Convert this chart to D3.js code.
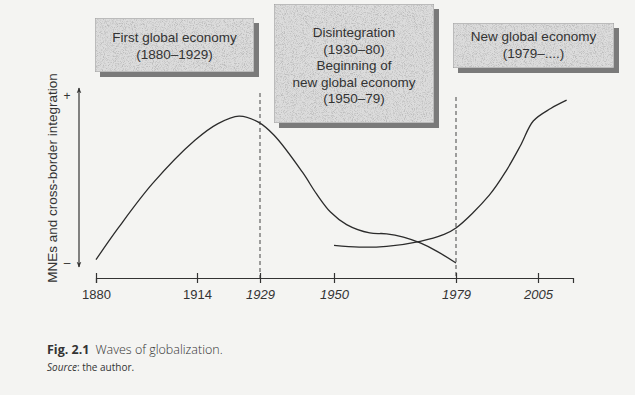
<!DOCTYPE html>
<html>
<head>
<meta charset="utf-8">
<script src="https://d3js.org/d3.v7.min.js"></script>
<style>
  body { margin: 0; background: #f4f4f2; }
  svg { display: block; }
  text { font-family: "Liberation Sans", Arial, sans-serif; fill: #333; }
  .cap { font-family: "Open Sans", "Noto Sans", sans-serif; }
</style>
</head>
<body>
<svg width="635" height="395"></svg>
<script>
// tick years along the time axis
var tickYears = [1880, 1914, 1929, 1950, 1979, 2005];
var italicYears = [1929, 1950, 1979, 2005];
var dashedYears = [1929, 1979];

// first wave: rise to 1920s, fall through disintegration
var waveYears  = [1880, 1887.5, 1899, 1913.3, 1919, 1924, 1928.5, 1933, 1941, 1945, 1949, 1953, 1958.5, 1962.5, 1966.5, 1970.5, 1974.5, 1979];
var waveValues = [0.2, 2.1, 4.75, 7.35, 8.35, 8.8, 8.45, 7.65, 5.45, 4.15, 3.05, 2.3, 1.8, 1.75, 1.55, 1.2, 0.7, 0];

// new global economy: starts 1950, climbs after 1979
var newYears  = [1950, 1956, 1962.5, 1970.5, 1976, 1979, 1989.5, 1995, 1999.5, 2003.5, 2009, 2014];
var newValues = [1.05, 0.95, 1.0, 1.3, 1.7, 2.1, 4.05, 5.55, 7.05, 8.5, 9.25, 9.75];

// period boxes
var boxLines = [
  ["First global economy", "(1880\u20131929)"],
  ["Disintegration", "(1930\u201380)", "Beginning of", "new global economy", "(1950\u201379)"],
  ["New global economy", "(1979\u2013....)"]
];
var boxGeom = [
  {x: 95, y: 18, w: 159, h: 54, ty: 42},
  {x: 274, y: 4, w: 160, h: 119, ty: 37},
  {x: 453, y: 23, w: 161, h: 45, ty: 41}
];

var svg = d3.select("svg");

var defs = svg.append("defs");
var f = defs.append("filter").attr("id", "grain")
  .attr("x", 0).attr("y", 0).attr("width", 1).attr("height", 1);
f.append("feTurbulence").attr("type", "fractalNoise").attr("baseFrequency", 1.1)
  .attr("numOctaves", 2).attr("seed", 4).attr("result", "n");
f.append("feColorMatrix").attr("in", "n").attr("type", "matrix")
  .attr("values", "0 0 0 0 0.5  0 0 0 0 0.5  0 0 0 0 0.5  3.2 0 0 0 -1.45")
  .attr("result", "dots");
f.append("feComposite").attr("in", "dots").attr("in2", "SourceGraphic")
  .attr("operator", "in").attr("result", "d2");
var fm = f.append("feMerge");
fm.append("feMergeNode").attr("in", "SourceGraphic");
fm.append("feMergeNode").attr("in", "d2");

defs.append("marker").attr("id", "ah")
  .attr("viewBox", "0 0 10 10").attr("refX", 9).attr("refY", 5)
  .attr("markerWidth", 6).attr("markerHeight", 7).attr("orient", "auto-start-reverse")
  .attr("markerUnits", "userSpaceOnUse")
  .append("path").attr("d", "M0,1 L10,5 L0,9 L3,5 Z").attr("fill", "#333");

// time scale is not even in the original, so it is piecewise
var x = d3.scaleLinear()
  .domain([1880, 1914, 1929, 1950, 1979, 2005, 2016])
  .range([96, 197, 260, 334, 456, 538, 573]);

var y = d3.scaleLinear().domain([0, 10]).range([263, 96]);

var axisY = 278;

// dashed period dividers
svg.selectAll(".dash").data(dashedYears).enter().append("line")
  .attr("x1", function(d){return x(d);}).attr("x2", function(d){return x(d);})
  .attr("y1", function(d,i){return i == 0 ? 93 : 97;}).attr("y2", axisY)
  .attr("stroke", "#444").attr("stroke-width", 1).attr("stroke-dasharray", "4,3");

// x axis
var xAxis = svg.append("g").attr("transform", "translate(0," + axisY + ")")
  .call(d3.axisBottom(x).tickValues(tickYears).tickSizeOuter(0).tickSize(5)
    .tickFormat(d3.format("d")));
xAxis.select(".domain").attr("stroke", "#333").attr("stroke-width", 1.2);
xAxis.selectAll(".tick line").attr("y1", -5).attr("y2", 5).attr("stroke", "#333").attr("stroke-width", 1.2);
xAxis.selectAll(".tick text")
  .attr("y", 12).attr("dy", "0.71em")
  .style("font-family", "'Liberation Sans', Arial, sans-serif")
  .style("font-size", "13px").style("fill", "#333")
  .style("font-style", function(d){return italicYears.indexOf(d) >= 0 ? "italic" : "normal";});

// vertical arrow
svg.append("line").attr("x1", 79).attr("x2", 79).attr("y1", 267).attr("y2", 88)
  .attr("stroke", "#333").attr("stroke-width", 1.2)
  .attr("marker-start", "url(#ah)").attr("marker-end", "url(#ah)");
svg.append("text").attr("x", 67).attr("y", y(10)).attr("dy", "0.35em")
  .attr("text-anchor", "middle").style("font-size", "12px").text("+");
svg.append("text").attr("x", 67).attr("y", y(0)).attr("dy", "0.35em")
  .attr("text-anchor", "middle").style("font-size", "12px").text("\u2013");
svg.append("text").attr("transform", "translate(52,178) rotate(-90)")
  .attr("text-anchor", "middle").attr("dy", "0.35em")
  .style("font-size", "13.5px").text("MNEs and cross-border integration");

// curves
var line = d3.line()
  .x(function(d){return x(d[0]);})
  .y(function(d){return y(d[1]);})
  .curve(d3.curveCatmullRom.alpha(0.5));

svg.append("path").datum(d3.zip(waveYears, waveValues))
  .attr("d", line).attr("fill", "none").attr("stroke", "#2b2b2b").attr("stroke-width", 1.3);
svg.append("path").datum(d3.zip(newYears, newValues))
  .attr("d", line).attr("fill", "none").attr("stroke", "#2b2b2b").attr("stroke-width", 1.3);

// boxes
var boxes = svg.selectAll(".box").data(boxGeom).enter().append("g");
boxes.append("rect")
  .attr("x", function(d){return d.x + 5;}).attr("y", function(d){return d.y + 5;})
  .attr("width", function(d){return d.w;}).attr("height", function(d){return d.h;})
  .attr("fill", "#7a7a7a");
boxes.append("rect")
  .attr("x", function(d){return d.x;}).attr("y", function(d){return d.y;})
  .attr("width", function(d){return d.w;}).attr("height", function(d){return d.h;})
  .attr("fill", "#dcdcdc").attr("stroke", "#8a8a8a").attr("stroke-width", 0.8)
  .attr("filter", "url(#grain)");
boxes.each(function(d, i) {
  var g = d3.select(this);
  boxLines[i].forEach(function(t, j) {
    g.append("text").attr("x", d.x + d.w / 2).attr("y", d.ty + j * 16.5)
      .attr("text-anchor", "middle").style("font-size", "13.5px").text(t);
  });
});

// caption
var cap = svg.append("text").attr("class", "cap").attr("x", 47).attr("y", 354).style("font-size", "12.5px");
cap.append("tspan").style("font-weight", "bold").text("Fig. 2.1");
cap.append("tspan").attr("dx", 6).style("font-weight", 300).text("Waves of globalization.");
var src = svg.append("text").attr("class", "cap").attr("x", 47).attr("y", 371).style("font-size", "10px");
src.append("tspan").style("font-style", "italic").text("Source");
src.append("tspan").text(": the author.");
</script>
</body>
</html>
